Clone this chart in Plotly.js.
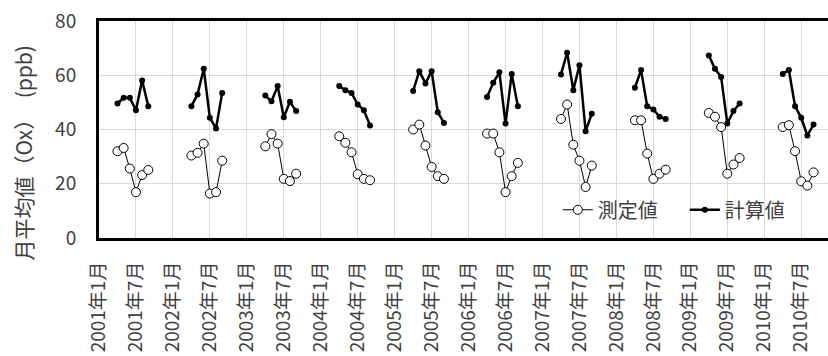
<!DOCTYPE html>
<html>
<head>
<meta charset="utf-8">
<script src="https://cdn.plot.ly/plotly-3.0.1.min.js"></script>
<style>
html,body{margin:0;padding:0;overflow:hidden;background:#fff;}
#chart{width:840px;height:356px;}
</style>
</head>
<body>
<div id="chart"></div>
<script>
// Years covered by the axis and the months with data (April-September)
const years = [2001,2002,2003,2004,2005,2006,2007,2008,2009,2010];
const dataMonths = [4,5,6,7,8,9];

// 測定値 (measured), one row per year, Apr..Sep
const measured2001 = [32.0, 33.2, 25.6, 16.9, 23.2, 25.1];
const measured2002 = [30.4, 31.4, 34.8, 16.4, 16.9, 28.5];
const measured2003 = [33.8, 38.3, 34.8, 21.8, 21.0, 23.7];
const measured2004 = [37.5, 35.1, 31.6, 23.5, 21.8, 21.3];
const measured2005 = [40.0, 41.8, 34.1, 26.2, 22.8, 21.8];
const measured2006 = [38.5, 38.5, 31.6, 16.9, 22.8, 27.7];
const measured2007 = [43.9, 49.2, 34.4, 28.5, 18.8, 26.7];
const measured2008 = [43.4, 43.4, 31.1, 21.8, 23.7, 25.2];
const measured2009 = [46.1, 44.7, 40.9, 23.7, 27.1, 29.5];
const measured2010 = [40.9, 41.6, 32.0, 20.9, 19.3, 24.2];

// 計算値 (computed), one row per year, Apr..Sep
const computed2001 = [49.6, 51.7, 51.7, 47.1, 58.1, 48.6];
const computed2002 = [48.6, 52.9, 62.4, 44.3, 40.4, 53.5];
const computed2003 = [52.5, 50.4, 56.0, 44.5, 50.2, 46.8];
const computed2004 = [56.0, 54.5, 53.5, 49.2, 47.1, 41.5];
const computed2005 = [54.2, 61.5, 57.0, 61.5, 46.4, 42.4];
const computed2006 = [52.0, 57.2, 61.1, 42.2, 60.5, 48.6];
const computed2007 = [60.3, 68.3, 54.5, 63.7, 39.4, 45.8];
const computed2008 = [55.4, 61.9, 48.6, 47.4, 44.7, 43.9];
const computed2009 = [67.3, 62.4, 59.4, 42.2, 46.8, 49.6];
const computed2010 = [60.5, 61.9, 48.6, 44.3, 37.8, 41.8];

const measuredByYear = [measured2001,measured2002,measured2003,measured2004,measured2005,
                        measured2006,measured2007,measured2008,measured2009,measured2010];
const computedByYear = [computed2001,computed2002,computed2003,computed2004,computed2005,
                        computed2006,computed2007,computed2008,computed2009,computed2010];

// Tick labels shown every 6 months
const tickMonths = [1,7];

const seriesNames = ['測定値','計算値'];
const yTitle = '月平均値（Ox）　(ppb)';

// ---- build monthly category table ----
const categories = [];
const measuredSeries = [];
const computedSeries = [];
const tickLabels = [];
years.forEach((y, yi) => {
  for (let m = 1; m <= 12; m++) {
    const lab = y + '年' + m + '月';
    categories.push(lab);
    const k = dataMonths.indexOf(m);
    measuredSeries.push(k >= 0 ? measuredByYear[yi][k] : null);
    computedSeries.push(k >= 0 ? computedByYear[yi][k] : null);
    if (tickMonths.indexOf(m) >= 0) tickLabels.push(lab);
  }
});

const font = '"Noto Sans CJK JP", "Noto Sans", sans-serif';
const txt = '#404040';

const traces = [
  {
    type: 'scatter', mode: 'lines+markers', name: seriesNames[0],
    x: categories, y: measuredSeries, connectgaps: false,
    line: {color: '#000', width: 1},
    marker: {symbol: 'circle', size: 9, color: '#fff', line: {color: '#000', width: 1}}
  },
  {
    type: 'scatter', mode: 'lines+markers', name: seriesNames[1],
    x: categories, y: computedSeries, connectgaps: false,
    line: {color: '#000', width: 2.5},
    marker: {symbol: 'circle', size: 6, color: '#000'}
  }
];

const layout = {
  width: 840, height: 356,
  margin: {l: 99, r: 8, t: 21, b: 118, pad: 0},
  paper_bgcolor: '#fff', plot_bgcolor: '#fff',
  font: {family: font, color: txt, size: 19},
  showlegend: true,
  legend: {
    orientation: 'h', x: 0.626, xanchor: 'left', y: 0.13, yanchor: 'middle',
    bgcolor: 'rgba(0,0,0,0)', font: {family: font, size: 20, color: txt},
    itemwidth: 30, entrywidth: 82, entrywidthmode: 'pixels'
  },
  xaxis: {
    type: 'category', categoryorder: 'array', categoryarray: categories,
    range: [0, categories.length - 1],
    tickmode: 'array', tickvals: tickLabels, ticktext: tickLabels,
    tickangle: -90, tickfont: {family: font, size: 19, color: txt},
    ticks: '', ticklabelstandoff: 13,
    showgrid: true, gridcolor: '#d9d9d9', gridwidth: 1,
    showline: true, linecolor: '#000', linewidth: 3, mirror: true,
    zeroline: false, fixedrange: true
  },
  yaxis: {
    range: [0, 80], tickmode: 'linear', tick0: 0, dtick: 20,
    tickfont: {family: font, size: 19, color: txt},
    ticks: '', ticklabelstandoff: 16,
    showgrid: true, gridcolor: '#d9d9d9', gridwidth: 1,
    showline: true, linecolor: '#000', linewidth: 3, mirror: true,
    zeroline: false, fixedrange: true
  },
  annotations: [{
    text: yTitle, textangle: -90, showarrow: false,
    xref: 'paper', yref: 'paper', x: 0, y: 0.5,
    xanchor: 'center', yanchor: 'middle',
    xshift: -77, yshift: -24,
    font: {family: font, size: 21, color: txt}
  }]
};

Plotly.newPlot('chart', traces, layout, {displayModeBar: false, staticPlot: true});
</script>
</body>
</html>
